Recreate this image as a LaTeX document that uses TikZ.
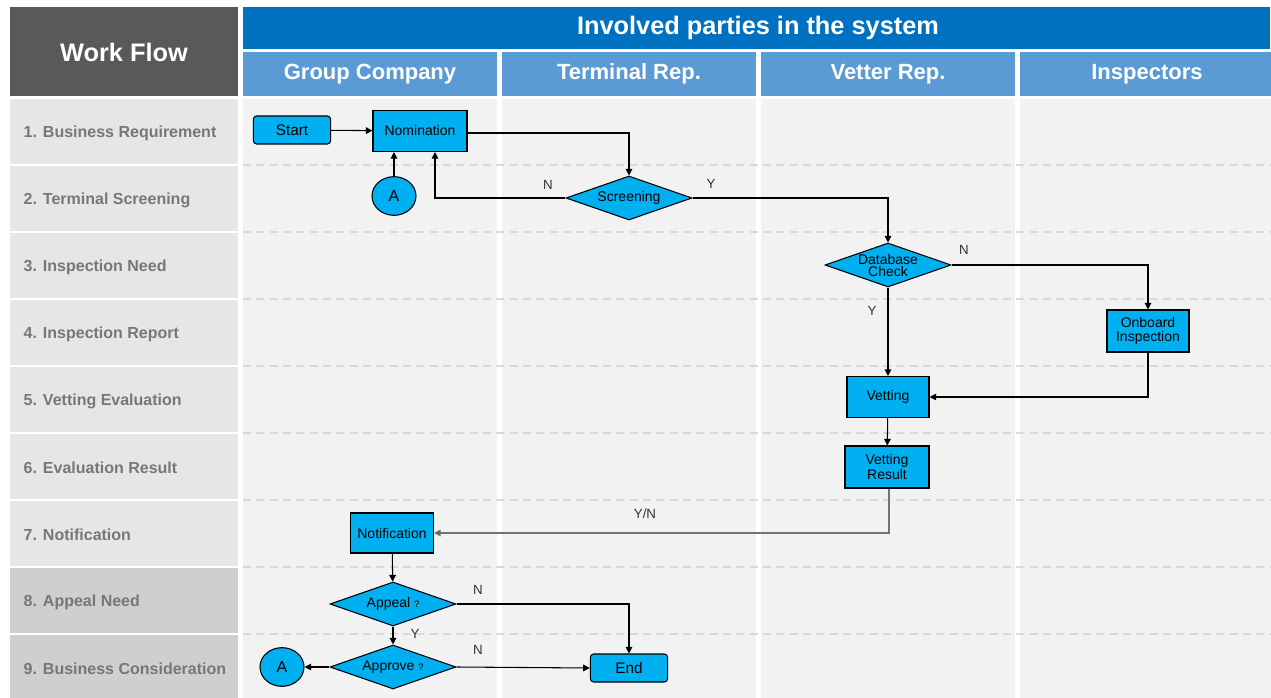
\documentclass[tikz,border=0pt]{standalone}
\usepackage{fontspec}
\setmainfont{Liberation Sans}
\usepackage{tikz}
\usetikzlibrary{shapes.geometric}
\usetikzlibrary{arrows.meta}

\definecolor{hdrdark}{HTML}{595959}
\definecolor{hdrblue}{HTML}{0070C0}
\definecolor{colblue}{HTML}{5B9BD5}
\definecolor{lanegray}{HTML}{F2F2F2}
\definecolor{rowgray}{HTML}{E6E6E6}
\definecolor{rowdark}{HTML}{D0CECE}
\definecolor{boxcyan}{HTML}{00B0F0}
\definecolor{labgray}{HTML}{777777}

\begin{document}
\begin{tikzpicture}[x=0.75pt,y=-0.75pt,
	box/.style={draw=black, fill=boxcyan, line width=0.8pt, align=center, font=\fontsize{10.5}{10.5}\selectfont, inner sep=1pt},
	term/.style={box, rounded corners=2.5pt, font=\fontsize{11.5}{12}\selectfont, minimum width=58pt, minimum height=21pt},
	decision/.style={box, diamond, aspect=2.9, inner sep=0pt, minimum width=94.5pt, minimum height=33pt},
	conn/.style={box, ellipse, inner sep=0pt, minimum width=33pt, minimum height=29pt, font=\fontsize{12}{12}\selectfont},
	arr/.style={-{Triangle[length=5pt,width=5pt]}, line width=0.8pt},
	lbl/.style={font=\fontsize{10}{11}\selectfont, text=black!80},
	rowlbl/.style={anchor=west, font=\fontsize{12}{13}\selectfont\bfseries, text=labgray},
	colhdr/.style={font=\fontsize{16.5}{18}\selectfont\bfseries, text=white}]

\useasboundingbox (0,0) rectangle (1271,698);
\fill[white] (0,0) rectangle (1271,698);

% headers
\fill[hdrdark] (10,7) rectangle (238,96);
\node[font=\fontsize{19}{21}\selectfont\bfseries, text=white] (wf) at (124,52) {Work Flow};
\fill[hdrblue] (243,7) rectangle (1270,49);
\node[font=\fontsize{19}{21}\selectfont\bfseries, text=white] (inv) at (758,28) {Involved parties in the system};
\foreach \x/\name/\txt in {243/gc/Group Company, 502/tr/Terminal Rep., 761/vr/Vetter Rep., 1020/ins/Inspectors}{
	\fill[colblue] (\x,52) rectangle ++(254,44);
	\fill[lanegray] (\x,99) rectangle ++(254,599);
	\node[colhdr] (\name) at (\x+127,74) {\txt};
}

% rows
\foreach \i/\txt in {1/1. Business Requirement, 2/2. Terminal Screening, 3/3. Inspection Need,
		4/4. Inspection Report, 5/5. Vetting Evaluation, 6/6. Evaluation Result, 7/7. Notification,
		8/8. Appeal Need, 9/9. Business Consideration}{
	\pgfmathsetmacro{\ytop}{99+(\i-1)*67}
	\ifnum\i>7 \def\rc{rowdark}\else\def\rc{rowgray}\fi
	\fill[\rc] (10,\ytop) rectangle (238,\ytop+65);
	\node[rowlbl] (row\i) at (19,\ytop+34) {\txt};
	\ifnum\i>1 \draw[black!15, dash pattern=on 6pt off 4pt, line width=0.8pt] (243,\ytop-1) -- (1270,\ytop-1);\fi
}

% flow
\node[term] (start) at (292,130) {Start};
\node[box, minimum width=70.5pt, minimum height=30.75pt] (nom) at (420,131) {Nomination};
\node[conn] (a1) at (394,196) {A};
\node[decision] (scr) at (629,198) {Screening};
\node[decision, font=\fontsize{10.5}{9}\selectfont] (db) at (888,265) {Database\\Check};
\node[box, minimum width=61.5pt, minimum height=31.5pt, font=\fontsize{10.5}{11}\selectfont] (onb) at (1148,331) {Onboard\\Inspection};
\node[box, minimum width=61.5pt, minimum height=30.75pt] (vet) at (888,397) {Vetting};
\node[box, minimum width=63pt, minimum height=31.5pt, font=\fontsize{10.5}{11}\selectfont] (vres) at (887,467) {Vetting\\Result};
\node[box, minimum width=62.25pt, minimum height=30pt] (notif) at (392,533) {Notification};
\node[decision] (app) at (393,604) {Appeal {\scriptsize ?}};
\node[decision] (apr) at (393,667) {Approve {\scriptsize ?}};
\node[conn] (a2) at (282,667) {A};
\node[term] (end) at (629,668) {End};

\draw[arr] (start) -- (nom);
\draw[arr] (a1.north) -- (a1.north |- nom.south);
\draw[arr] ([yshift=-1.5pt]nom.east) -| (scr.north);
\draw[arr] (scr.west) -| ([xshift=11.25pt]nom.south);
\draw[arr] (scr.east) -| (db.north);
\draw[arr] (db.east) -| (onb.north);
\draw[arr] (db.south) -- (vet.north);
\draw[arr] (onb.south) |- (vet.east);
\draw[arr] (vet) -- (vres);
\draw[arr, draw=black!55, line width=1.4pt, -{Triangle[length=5pt,width=5pt,fill=black]}] ([xshift=1.5pt]vres.south) |- (notif.east);
\draw[arr] (notif) -- (app);
\draw[arr] (app.east) -| (end.north);
\draw[arr] (app.south) -- (apr.north);
\draw[arr] (apr.east) -- (end.west);
\draw[arr] (apr.west) -- (a2.east);

\node[lbl] (n1) at (548,185) {N};
\node[lbl] (y1) at (711,184) {Y};
\node[lbl] (n2) at (964,250) {N};
\node[lbl] (y2) at (872,311) {Y};
\node[lbl] (yn) at (645,514) {Y/N};
\node[lbl] (n3) at (478,590) {N};
\node[lbl] (y3) at (415,634) {Y};
\node[lbl] (n4) at (478,650) {N};
\end{tikzpicture}
\end{document}
